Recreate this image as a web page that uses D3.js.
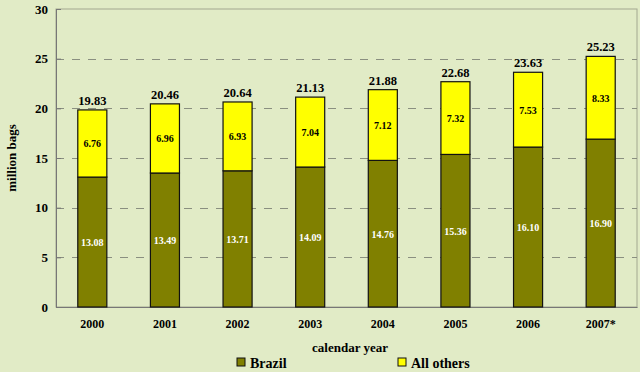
<!DOCTYPE html>
<html>
<head>
<meta charset="utf-8">
<script src="https://cdn.jsdelivr.net/npm/d3@7"></script>
<style>
  body { margin: 0; background: #e1ebc6; }
  text { font-family: "Liberation Serif", "Times New Roman", serif; font-weight: bold; }
</style>
</head>
<body>
<script>
// chart values
var years = ["2000", "2001", "2002", "2003", "2004", "2005", "2006", "2007*"];
var brazil = [13.08, 13.49, 13.71, 14.09, 14.76, 15.36, 16.10, 16.90];
var others = [6.76, 6.96, 6.93, 7.04, 7.12, 7.32, 7.53, 8.33];
var totals = [19.83, 20.46, 20.64, 21.13, 21.88, 22.68, 23.63, 25.23];
var yTicks = [0, 5, 10, 15, 20, 25, 30];
var seriesNames = ["Brazil", "All others"];
var seriesColors = ["#808000", "#ffff00"];

var svgwidth = 640;
var svgheight = 372;

var margin = { top: 9, right: 3, bottom: 65, left: 56 };
var width = svgwidth - margin.left - margin.right;
var height = svgheight - margin.top - margin.bottom;

var svg = d3.select("body")
            .append("svg")
            .attr("width", svgwidth)
            .attr("height", svgheight);

svg.append("rect")
    .attr("width", svgwidth)
    .attr("height", svgheight)
    .attr("fill", "#e1ebc6");

var chartGroup = svg.append("g")
                .attr("transform", `translate(${margin.left}, ${margin.top})`);

var x = d3.scaleBand()
        .domain(years)
        .range([0, width])
        .paddingInner(0.6)
        .paddingOuter(0.3);

var y = d3.scaleLinear()
        .domain([0, 30])
        .range([height, 0]);

// plot frame
chartGroup.append("rect")
    .attr("width", width)
    .attr("height", height)
    .attr("fill", "none")
    .attr("stroke", "#a3a890")
    .attr("stroke-width", 1);

// dashed gridlines
chartGroup.selectAll(".grid")
    .data(yTicks.filter(d => d > 0 && d < 30))
    .enter()
    .append("line")
    .attr("x1", 0)
    .attr("x2", width)
    .attr("y1", d => Math.round(y(d)) + 0.5)
    .attr("y2", d => Math.round(y(d)) + 0.5)
    .attr("stroke", "#8a8f80")
    .attr("stroke-dasharray", "8,8");

// left axis
var leftAxis = d3.axisLeft(y).tickValues(yTicks).tickSize(-5).tickPadding(8);
var yAxisG = chartGroup.append("g").call(leftAxis);
yAxisG.select(".domain").attr("stroke", "#777");
yAxisG.selectAll(".tick line").attr("stroke", "#777");
yAxisG.selectAll("text").attr("font-size", 13).attr("fill", "#000");

// bottom axis
var bottomAxis = d3.axisBottom(x).tickSize(0).tickPadding(12);
var xAxisG = chartGroup.append("g")
    .attr("transform", `translate(0, ${height})`)
    .call(bottomAxis);
xAxisG.select(".domain").attr("stroke", "#777");
xAxisG.selectAll("text").attr("font-size", 12).attr("fill", "#000");

// stacked bars
var stackData = years.map((yr, i) => ({ year: yr, brazil: brazil[i], others: others[i] }));
var stack = d3.stack().keys(["brazil", "others"])(stackData);

stack.forEach(function(layer, li) {
    chartGroup.selectAll(".bar" + li)
        .data(layer)
        .enter()
        .append("rect")
        .attr("x", d => x(d.data.year))
        .attr("y", d => y(d[1]))
        .attr("width", x.bandwidth())
        .attr("height", d => y(d[0]) - y(d[1]))
        .attr("fill", seriesColors[li])
        .attr("stroke", "#111")
        .attr("stroke-width", 1.2);

    chartGroup.selectAll(".lab" + li)
        .data(layer)
        .enter()
        .append("text")
        .attr("x", d => x(d.data.year) + x.bandwidth() / 2)
        .attr("y", d => y((d[0] + d[1]) / 2) + 4)
        .attr("text-anchor", "middle")
        .attr("font-size", 10)
        .attr("fill", li === 0 ? "#fff" : "#000")
        .text(d => (d[1] - d[0]).toFixed(2));
});

// totals
chartGroup.selectAll(".total")
    .data(totals)
    .enter()
    .append("text")
    .attr("x", (d, i) => x(years[i]) + x.bandwidth() / 2)
    .attr("y", d => y(d) - 5)
    .attr("text-anchor", "middle")
    .attr("font-size", 12.5)
    .attr("fill", "#000")
    .text(d => d.toFixed(2));

// axis labels
svg.append("text")
    .attr("transform", `translate(16, ${margin.top + height / 2}) rotate(-90)`)
    .attr("text-anchor", "middle")
    .attr("font-size", 13)
    .text("million bags");

svg.append("text")
    .attr("x", 350)
    .attr("y", 352)
    .attr("text-anchor", "middle")
    .attr("font-size", 13)
    .text("calendar year");

// legend
var legendX = [237, 398];
var legend = svg.selectAll(".legend")
    .data(seriesNames)
    .enter()
    .append("g")
    .attr("transform", (d, i) => `translate(${legendX[i]}, 358)`);

legend.append("rect")
    .attr("width", 8)
    .attr("height", 8)
    .attr("fill", (d, i) => seriesColors[i])
    .attr("stroke", "#111");

legend.append("text")
    .attr("x", 13)
    .attr("y", 10)
    .attr("font-size", 14)
    .text(d => d);
</script>
</body>
</html>
